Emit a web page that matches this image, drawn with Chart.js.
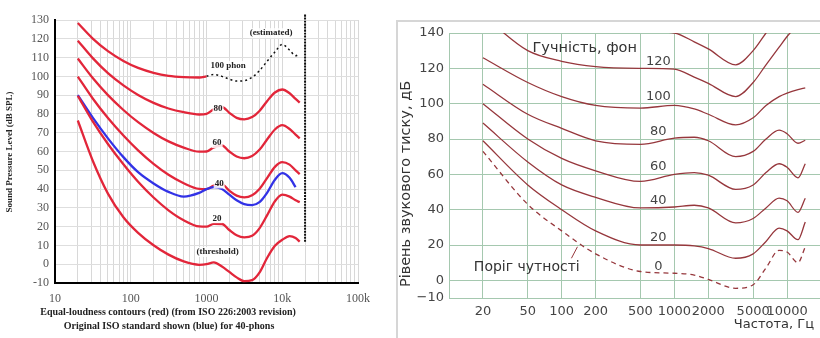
<!DOCTYPE html>
<html>
<head>
<meta charset="utf-8">
<script src="https://cdn.jsdelivr.net/npm/chart.js@4.4.1/dist/chart.umd.min.js"></script>
<style>
  html, body { margin: 0; padding: 0; background: #fff; width: 820px; height: 338px; overflow: hidden; }
  #leftChart { position: absolute; left: 0; top: 0; }
  #frame { position: absolute; left: 396px; top: 20px; width: 440px; height: 340px; border: 2px solid #d6d6d6; box-sizing: border-box; }
  #rightChart { position: absolute; left: 396px; top: 0; }
</style>
</head>
<body>
<canvas id="leftChart" width="392" height="338"></canvas>
<div id="frame"></div>
<canvas id="rightChart" width="430" height="338"></canvas>
<script>
// ---- left chart: ISO 226:2003 contours ----
const leftFreq = [20, 31.5, 50, 80, 125, 200, 315, 500, 800, 1000, 1250, 1600, 2000, 2500, 3150, 4000, 5000, 6300, 8000, 10000, 12500, 15000, 17000];
const leftThreshold = [76.5, 55.1, 37.6, 25.0, 16.7, 10.1, 5.1, 1.5, -0.3, 0, 1.0, -1.2, -4.1, -7.0, -9.0, -8.5, -4.5, 3.3, 9.8, 13, 15, 14, 12];
const left20 = [89.6, 76.0, 64.0, 53.2, 43.9, 35.5, 28.7, 23.4, 20.1, 20.0, 21.5, 21.4, 18.2, 15.4, 14.3, 15.1, 19.1, 26.0, 33.5, 37, 36, 34, 33];
const left40 = [99.9, 88.2, 77.8, 68.5, 60.6, 53.4, 47.6, 43.1, 40.1, 40.0, 41.8, 42.5, 39.2, 36.5, 35.6, 36.7, 40.0, 45.8, 51.8, 54.3, 53, 50, 48];
const left60 = [109.5, 99.1, 90.0, 82.1, 75.6, 69.9, 65.4, 62.1, 59.9, 60.0, 62.2, 63.2, 60.0, 57.3, 56.4, 57.6, 60.9, 66.4, 71.7, 74, 72, 69, 67];
const left80 = [119.0, 109.7, 101.7, 95.2, 90.1, 85.9, 82.9, 80.9, 79.7, 80.0, 82.5, 83.7, 80.6, 77.9, 77.1, 78.3, 81.6, 86.8, 91.4, 93, 91, 88, 86];
const left100Freq = [20, 31.5, 50, 80, 125, 200, 315, 500, 800, 1000];
const left100 = [128.4, 120.1, 113.4, 108.2, 104.5, 101.9, 100.3, 99.6, 99.4, 100.0];
const leftEstFreq = [1000, 1250, 1600, 2000, 2500, 3150, 4000, 5000, 6300, 8000, 10000, 12500, 15000, 17000];
const leftEst = [100, 101, 100, 98.5, 97.5, 97.7, 99.5, 103, 108, 113, 117, 114, 111, 112];
const leftBlueFreq = [20, 31.5, 50, 80, 125, 200, 315, 500, 800, 1000, 1250, 1600, 2000, 2500, 3150, 4000, 5000, 6300, 8000, 10000, 12500, 15000];
const leftBlue = [90, 78, 67, 57, 49, 43, 38.5, 36, 38, 40, 41, 40, 37, 34, 32, 31.5, 33, 38, 45, 48.5, 46, 41];
const leftEdgeFreq = [20000, 20000];
const leftEdge = [12, 135];
const leftTickVals = [10, 100, 1000, 10000, 100000];
const leftTickText = ['10', '100', '1000', '10k', '100k'];
const leftLabelText = ['100 phon', '80', '60', '40', '20', '(threshold)', '(estimated)'];
const leftLabelFreq = [1930, 1420, 1380, 1470, 1380, 1400, 7130];
const leftLabelDb = [105.5, 83, 64.5, 43, 24.5, 6.5, 123];

// ---- right chart: Ukrainian version ----
const rightFreq = [20, 50, 100, 200, 500, 1000, 1500, 2000, 3500, 5000, 6500, 8500, 10000, 12500, 14500];
const rightThreshold = [73, 43, 28, 15, 5, 4, 3, 0.5, -4.5, -2.5, 7, 17, 16, 10, 19];
const right20 = [79, 54, 40, 28, 20, 20, 19.5, 18, 12.5, 15, 22, 29.5, 28, 23, 33];
const right40 = [89, 67, 54, 47, 41, 41.5, 42.5, 41, 32.5, 35, 41, 46.5, 45, 38.5, 46.5];
const right60 = [100, 80, 69, 62, 56, 60, 61, 59.5, 51.5, 54, 61, 66, 64, 58, 66];
const right80 = [111, 94, 86, 79, 77, 80.5, 81, 79, 70, 73, 80, 85, 83, 77.6, 79.3];
const right100 = [126, 112, 104, 99, 97.5, 99, 97, 94, 88, 92, 99, 104, 106, 108, 109];
const right120 = [150, 130, 124, 121, 120, 119.5, 115, 111.5, 104, 112, 122, 132, 138, 145, 150];
const right140 = [170, 150, 145, 142, 141, 140, 135, 131, 122, 130, 140, 150, 158, 165, 170];
const rightTickVals = [20, 50, 100, 200, 500, 1000, 2000, 5000, 10000];
const rightYTicks = [-10, 0, 20, 40, 60, 80, 100, 120, 140];
const rightLabelText = ['120', '100', '80', '60', '40', '20', '0'];
const rightLabelDb = [124, 104, 84, 64.5, 45, 24, 8];
const rightLabelFreq = 720;

const pts = (fs, vs) => vs.map((v, i) => ({ x: fs[i], y: v }));

const textPlugin = {
  id: 'texts',
  afterDatasetsDraw(chart, args, opts) {
    const { ctx, scales: { x, y } } = chart;
    ctx.save();
    (opts.items || []).forEach(t => {
      ctx.font = t.font;
      ctx.fillStyle = t.color || '#333';
      ctx.textAlign = t.align || 'center';
      ctx.textBaseline = 'middle';
      const px = t.fx !== undefined ? x.getPixelForValue(t.fx) : t.px;
      const py = t.fy !== undefined ? y.getPixelForValue(t.fy) : t.py;
      ctx.save();
      ctx.translate(px, py);
      if (t.rot) ctx.rotate(t.rot);
      if (t.bg) {
        const w = ctx.measureText(t.text).width;
        ctx.fillStyle = t.bg;
        ctx.fillRect(-w / 2 - 1, -5, w + 2, 10);
        ctx.fillStyle = t.color || '#333';
      }
      ctx.fillText(t.text, 0, 0);
      ctx.restore();
    });
    (opts.lines || []).forEach(l => {
      ctx.strokeStyle = l.color;
      ctx.lineWidth = l.width;
      ctx.beginPath();
      ctx.moveTo(x.getPixelForValue(l.x1), y.getPixelForValue(l.y1));
      ctx.lineTo(x.getPixelForValue(l.x2), y.getPixelForValue(l.y2));
      ctx.stroke();
    });
    ctx.restore();
  }
};

// left
const red = 'rgb(226,38,58)';
const lineL = (data, color, extra) => Object.assign({
  data, borderColor: color, borderWidth: 2.3, pointRadius: 0, fill: false,
  cubicInterpolationMode: 'monotone'
}, extra || {});

const logGrid = [];
for (let e = 1; e <= 4; e++) for (let m = 1; m <= 9; m++) logGrid.push(m * Math.pow(10, e));
logGrid.push(100000);

const serif = 'Liberation Serif';
const leftItems = leftLabelText.map((t, i) => ({
  text: t, fx: leftLabelFreq[i], fy: leftLabelDb[i],
  font: 'bold 9px "' + serif + '"', color: '#222', bg: 'rgba(255,255,255,0.85)'
}));
leftItems.push({ text: 'Sound Pressure Level (dB SPL)', px: 10, py: 152, rot: -Math.PI / 2, font: 'bold 9px "' + serif + '"', color: '#222' });
leftItems.push({ text: 'Equal-loudness contours (red) (from ISO 226:2003 revision)', px: 168, py: 312, font: 'bold 10px "' + serif + '"', color: '#222' });
leftItems.push({ text: 'Original ISO standard shown (blue) for 40-phons', px: 169, py: 326, font: 'bold 10px "' + serif + '"', color: '#222' });

new Chart(document.getElementById('leftChart'), {
  type: 'line',
  data: {
    datasets: [
      lineL(pts(leftFreq, leftThreshold), red),
      lineL(pts(leftFreq, left20), red),
      lineL(pts(leftFreq, left60), red),
      lineL(pts(leftFreq, left80), red),
      lineL(pts(left100Freq, left100), red),
      lineL(pts(leftEstFreq, leftEst), '#111', { borderWidth: 1.5, borderDash: [2, 3] }),
      lineL(pts(leftBlueFreq, leftBlue), 'rgb(50,50,230)'),
      lineL(pts(leftFreq, left40), red),
      lineL(pts(leftEdgeFreq, leftEdge), '#111', { borderWidth: 2, borderDash: [2, 1], clip: 6 })
    ]
  },
  options: {
    responsive: false, animation: false,
    layout: { padding: { left: 10, right: 34, top: 20, bottom: 25 } },
    plugins: { legend: { display: false }, tooltip: { enabled: false }, texts: { items: leftItems } },
    scales: {
      x: {
        type: 'logarithmic', min: 10, max: 100000,
        afterBuildTicks: s => { s.ticks = logGrid.map(v => ({ value: v })); },
        afterFit: s => { s.height = 30; },
        ticks: {
          autoSkip: false, maxRotation: 0, padding: 9, color: '#555',
          font: { family: serif, size: 12 },
          callback: v => { const i = leftTickVals.indexOf(v); return i < 0 ? '' : leftTickText[i]; }
        },
        grid: { color: '#d8d8d8', lineWidth: 1, drawTicks: false },
        border: { color: '#000', width: 2 }
      },
      y: {
        min: -10, max: 130,
        afterFit: s => { s.width = 45; },
        ticks: { stepSize: 10, padding: 6, color: '#555', font: { family: serif, size: 12 } },
        grid: { color: '#dedede', lineWidth: 1, drawTicks: false },
        border: { color: '#000', width: 2 }
      }
    }
  },
  plugins: [textPlugin]
});

// right
const brown = 'rgb(150,55,60)';
const lineR = (vals, extra) => Object.assign({
  data: pts(rightFreq, vals), borderColor: brown, borderWidth: 1.3, pointRadius: 0, fill: false,
  cubicInterpolationMode: 'monotone'
}, extra || {});

const sans = 'DejaVu Sans';
const rightItems = rightLabelText.map((t, i) => ({
  text: t, fx: rightLabelFreq, fy: rightLabelDb[i], font: '13px "' + sans + '"', color: '#444'
}));
rightItems.push({ text: 'Гучність, фон', fx: 160, fy: 131.5, font: '14.5px "' + sans + '"', color: '#333' });
rightItems.push({ text: 'Поріг чутності', fx: 49, fy: 7.5, font: '14px "' + sans + '"', color: '#333' });
rightItems.push({ text: 'Рівень звукового тиску, дБ', px: 10, py: 184, rot: -Math.PI / 2, font: '14.5px "' + sans + '"', color: '#333' });
rightItems.push({ text: 'Частота, Гц', px: 418, py: 325, align: 'right', font: '13px "' + sans + '"', color: '#333' });

new Chart(document.getElementById('rightChart'), {
  type: 'line',
  data: {
    datasets: [
      lineR(rightThreshold, { borderDash: [5, 4] }),
      lineR(right20), lineR(right40), lineR(right60), lineR(right80),
      lineR(right100), lineR(right120), lineR(right140)
    ]
  },
  options: {
    responsive: false, animation: false,
    layout: { padding: { left: 10, right: 5, top: 33, bottom: 15 } },
    plugins: {
      legend: { display: false }, tooltip: { enabled: false },
      texts: { items: rightItems, lines: [{ x1: 122, y1: 12.5, x2: 138, y2: 19, color: brown, width: 1 }] }
    },
    scales: {
      x: {
        type: 'logarithmic', min: 10, max: 20000,
        afterBuildTicks: s => { s.ticks = rightTickVals.map(v => ({ value: v })); },
        afterFit: s => { s.height = 25; },
        ticks: { autoSkip: false, maxRotation: 0, padding: 6, color: '#444', font: { family: sans, size: 13 }, callback: v => String(v) },
        grid: { color: 'rgb(165,200,175)', lineWidth: 1, drawTicks: false },
        border: { color: 'rgb(165,200,175)', width: 1 }
      },
      y: {
        min: -10, max: 140,
        afterBuildTicks: s => { s.ticks = rightYTicks.map(v => ({ value: v })); },
        afterFit: s => { s.width = 43; },
        ticks: { padding: 5, color: '#444', font: { family: sans, size: 13 }, callback: v => (v < 0 ? '\u2212' + Math.abs(v) : String(v)) },
        grid: { color: 'rgb(165,200,175)', lineWidth: 1, drawTicks: false },
        border: { color: 'rgb(165,200,175)', width: 1 }
      }
    }
  },
  plugins: [textPlugin]
});
</script>
</body>
</html>
